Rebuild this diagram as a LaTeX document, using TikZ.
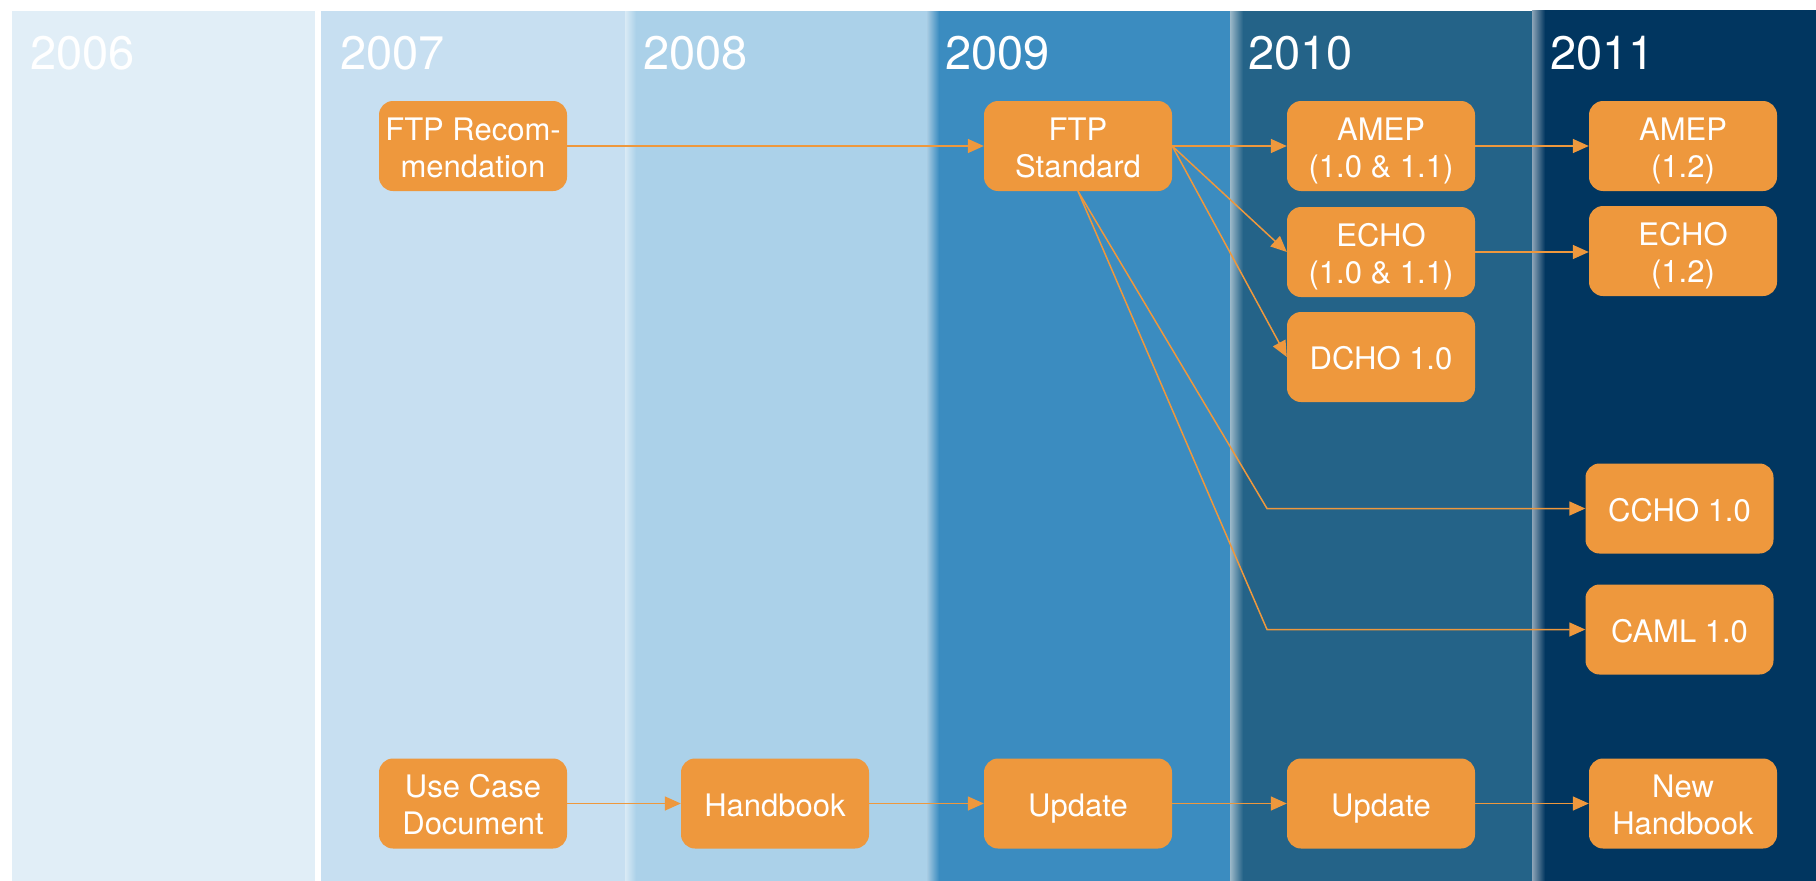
\documentclass[tikz,border=0pt]{standalone}
\usepackage{fontspec}
\setmainfont{TeX Gyre Heros}
\usetikzlibrary{arrows.meta}
\definecolor{orng}{RGB}{238,152,61}
\definecolor{cA}{RGB}{225,238,247}
\definecolor{cB}{RGB}{199,223,241}
\definecolor{cC}{RGB}{171,209,233}
\definecolor{cD}{RGB}{59,140,192}
\definecolor{cE}{RGB}{36,99,136}
\definecolor{cF}{RGB}{1,54,96}
\newcommand{\bst}{\rule{0pt}{32pt}}
\newcommand{\est}{\rule[-7pt]{0pt}{7pt}}
\pgfdeclarelayer{back}
\pgfdeclarelayer{edges}
\pgfsetlayers{back,edges,main}
\tikzset{
  box/.style={fill=orng, text=white, rounded corners=14pt, minimum width=188pt,
    minimum height=90pt, inner sep=0pt, align=center,
    font=\fontsize{31}{37}\selectfont},
  yearlbl/.style={anchor=base west, text=white, inner sep=0pt,
    font=\fontsize{47}{50}\selectfont},
  conn/.style={draw=orng, line width=1.5pt, -{Triangle[length=16pt,width=14pt]}},
}
\begin{document}
\begin{tikzpicture}[x=1pt,y=-1pt]
\useasboundingbox (0,0) rectangle (1816,881);
\begin{pgfonlayer}{back}
\fill[white] (0,0) rectangle (1816,881);
\fill[cA] (12,11) rectangle (315,881);
\fill[cB] (321,11) rectangle (625,881);
\fill[cC] (625,11) rectangle (927,881);
\fill[cD] (927,11) rectangle (1230,881);
\fill[cE] (1230,11) rectangle (1532,881);
\fill[cF] (1532,10) rectangle (1816,881);
\shade[left color=white!55!cC, right color=cC] (625,11) rectangle (636,881);
\shade[left color=white!55!cD, right color=cD] (927,11) rectangle (939,881);
\shade[left color=white!55!cE, right color=cE] (1230,11) rectangle (1243,881);
\shade[left color=white!55!cF, right color=cF] (1532,10) rectangle (1545,881);
\end{pgfonlayer}

\node[yearlbl] (y2006) at (30,69) {2006};
\node[yearlbl] (y2007) at (340,69) {2007};
\node[yearlbl] (y2008) at (643,69) {2008};
\node[yearlbl] (y2009) at (945,69) {2009};
\node[yearlbl] (y2010) at (1248,69) {2010};
\node[yearlbl] (y2011) at (1550,69) {2011};

\node[box] (frec) at (473,146) {\bst FTP Recom-\\mendation\est};
\node[box] (fstd) at (1078,146) {\bst FTP\\Standard\est};
\node[box] (amep1) at (1381,146) {\bst AMEP\\(1.0 \& 1.1)\est};
\node[box] (amep2) at (1683,146) {\bst AMEP\\(1.2)\est};
\node[box] (echo1) at (1381,252) {\bst ECHO\\(1.0 \& 1.1)\est};
\node[box] (echo2) at (1683,251) {\bst ECHO\\(1.2)\est};
\node[box] (dcho) at (1381,357) {\bst DCHO 1.0\est};
\node[box] (ccho) at (1679.5,508.5) {\bst CCHO 1.0\est};
\node[box] (caml) at (1679.5,629.5) {\bst CAML 1.0\est};
\node[box] (uc) at (473,803.5) {\bst Use Case\\Document\est};
\node[box] (hb) at (775,803.5) {\bst Handbook\est};
\node[box] (up1) at (1078,803.5) {\bst Update\est};
\node[box] (up2) at (1381,803.5) {\bst Update\est};
\node[box] (nh) at (1683,803.5) {\bst New\\Handbook\est};

\coordinate (b1) at (1267,508.5);
\coordinate (b2) at (1267,629.5);

\begin{pgfonlayer}{edges}
\draw[conn] (frec) -- (fstd);
\draw[conn] (fstd) -- (amep1);
\draw[conn] (fstd.east) -- (echo1.west);
\draw[conn] (fstd.east) -- (dcho.west);
\draw[conn] (amep1) -- (amep2);
\draw[conn] (echo1) -- (echo2.west |- echo1);
\draw[conn] (fstd.south) -- (b1) -- (ccho.west);
\draw[conn] (fstd.south) -- (b2) -- (caml.west);
\draw[conn] (uc) -- (hb);
\draw[conn] (hb) -- (up1);
\draw[conn] (up1) -- (up2);
\draw[conn] (up2) -- (nh);
\end{pgfonlayer}
\end{tikzpicture}
\end{document}
